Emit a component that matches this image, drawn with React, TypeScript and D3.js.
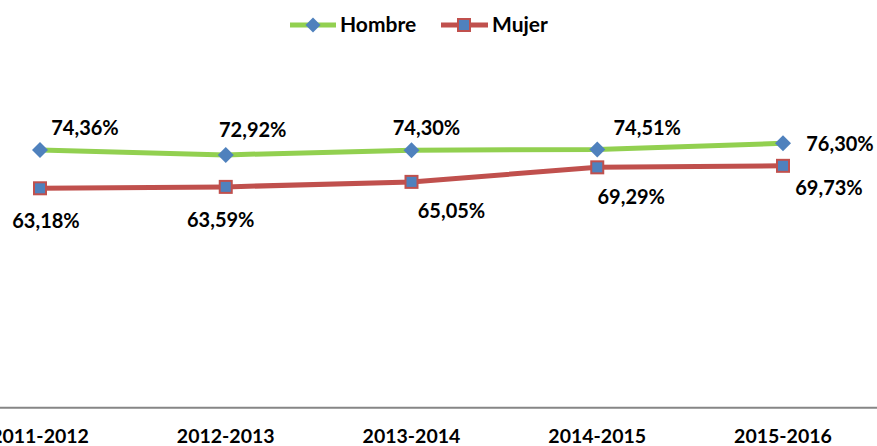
import React from "react";
import * as d3 from "d3";

const categories = ["2011-2012", "2012-2013", "2013-2014", "2014-2015", "2015-2016"];
const hombre = [74.36, 72.92, 74.3, 74.51, 76.3];
const mujer = [63.18, 63.59, 65.05, 69.29, 69.73];
const hombreLabelOffsets: [number, number][] = [[45, -22], [27, -25], [15, -22], [50, -21], [57, 1]];
const mujerLabelOffsets: [number, number][] = [[6, 33], [-5, 33], [40, 29], [34, 30], [46, 22]];

const W = 877;
const H = 446;
const AXIS_Y = 407.7;
const GREEN = "#92D050";
const RED = "#C0504D";
const BLUE = "#4F81BD";
const FONT = "Lato, 'Open Sans', sans-serif";

const fmt = (v: number) => v.toFixed(2).replace(".", ",") + "%";

export default function App() {
  const x = d3.scalePoint<string>().domain(categories).range([40, 783]);
  const y = d3.scaleLinear().domain([0, 100]).range([405, 62]);
  const line = d3
    .line<number>()
    .x((_, i) => x(categories[i]) as number)
    .y((d) => y(d));

  const diamond = (cx: number, cy: number, r: number) =>
    `M${cx},${cy - r}L${cx + r},${cy}L${cx},${cy + r}L${cx - r},${cy}Z`;

  return (
    <svg
      width={W}
      height={H}
      style={{ position: "absolute", left: 0, top: 0, background: "#fff" }}
    >
      <rect width={W} height={H} fill="#fff" />
      {/* legend */}
      <g>
        <line x1={290} x2={336} y1={25} y2={25} stroke={GREEN} strokeWidth={5} />
        <path d={diamond(313, 25, 7.5)} fill={BLUE} />
        <text x={340} y={25} dy="0.35em" fontFamily={FONT} fontWeight={700} fontSize={21} fill="#000">
          Hombre
        </text>
        <line x1={441} x2={488} y1={25} y2={25} stroke={RED} strokeWidth={5} />
        <rect x={458} y={19} width={12} height={12} fill={BLUE} stroke={RED} strokeWidth={2} />
        <text x={492} y={25} dy="0.35em" fontFamily={FONT} fontWeight={700} fontSize={21} fill="#000">
          Mujer
        </text>
      </g>
      {/* axis */}
      <line x1={0} x2={W} y1={AXIS_Y} y2={AXIS_Y} stroke="#868686" strokeWidth={2} />
      {categories.map((c) => (
        <text
          key={c}
          x={x(c)}
          y={436}
          dy="0.35em"
          textAnchor="middle"
          fontFamily={FONT}
          fontWeight={700}
          fontSize={19.5}
          fill="#000"
        >
          {c}
        </text>
      ))}
      {/* lines */}
      <path d={line(hombre) || ""} fill="none" stroke={GREEN} strokeWidth={5} />
      <path d={line(mujer) || ""} fill="none" stroke={RED} strokeWidth={5} />
      {hombre.map((v, i) => (
        <path key={"hd" + i} d={diamond(x(categories[i]) as number, y(v), 8)} fill={BLUE} />
      ))}
      {mujer.map((v, i) => (
        <rect
          key={"ms" + i}
          x={(x(categories[i]) as number) - 6}
          y={y(v) - 6}
          width={12}
          height={12}
          fill={BLUE}
          stroke={RED}
          strokeWidth={2}
        />
      ))}
      {/* data labels */}
      {hombre.map((v, i) => (
        <text
          key={"hl" + i}
          x={(x(categories[i]) as number) + hombreLabelOffsets[i][0]}
          y={y(v) + hombreLabelOffsets[i][1]}
          dy="0.35em"
          textAnchor="middle"
          fontFamily={FONT}
          fontWeight={700}
          fontSize={20}
          fill="#000"
        >
          {fmt(v)}
        </text>
      ))}
      {mujer.map((v, i) => (
        <text
          key={"ml" + i}
          x={(x(categories[i]) as number) + mujerLabelOffsets[i][0]}
          y={y(v) + mujerLabelOffsets[i][1]}
          dy="0.35em"
          textAnchor="middle"
          fontFamily={FONT}
          fontWeight={700}
          fontSize={20}
          fill="#000"
        >
          {fmt(v)}
        </text>
      ))}
    </svg>
  );
}
